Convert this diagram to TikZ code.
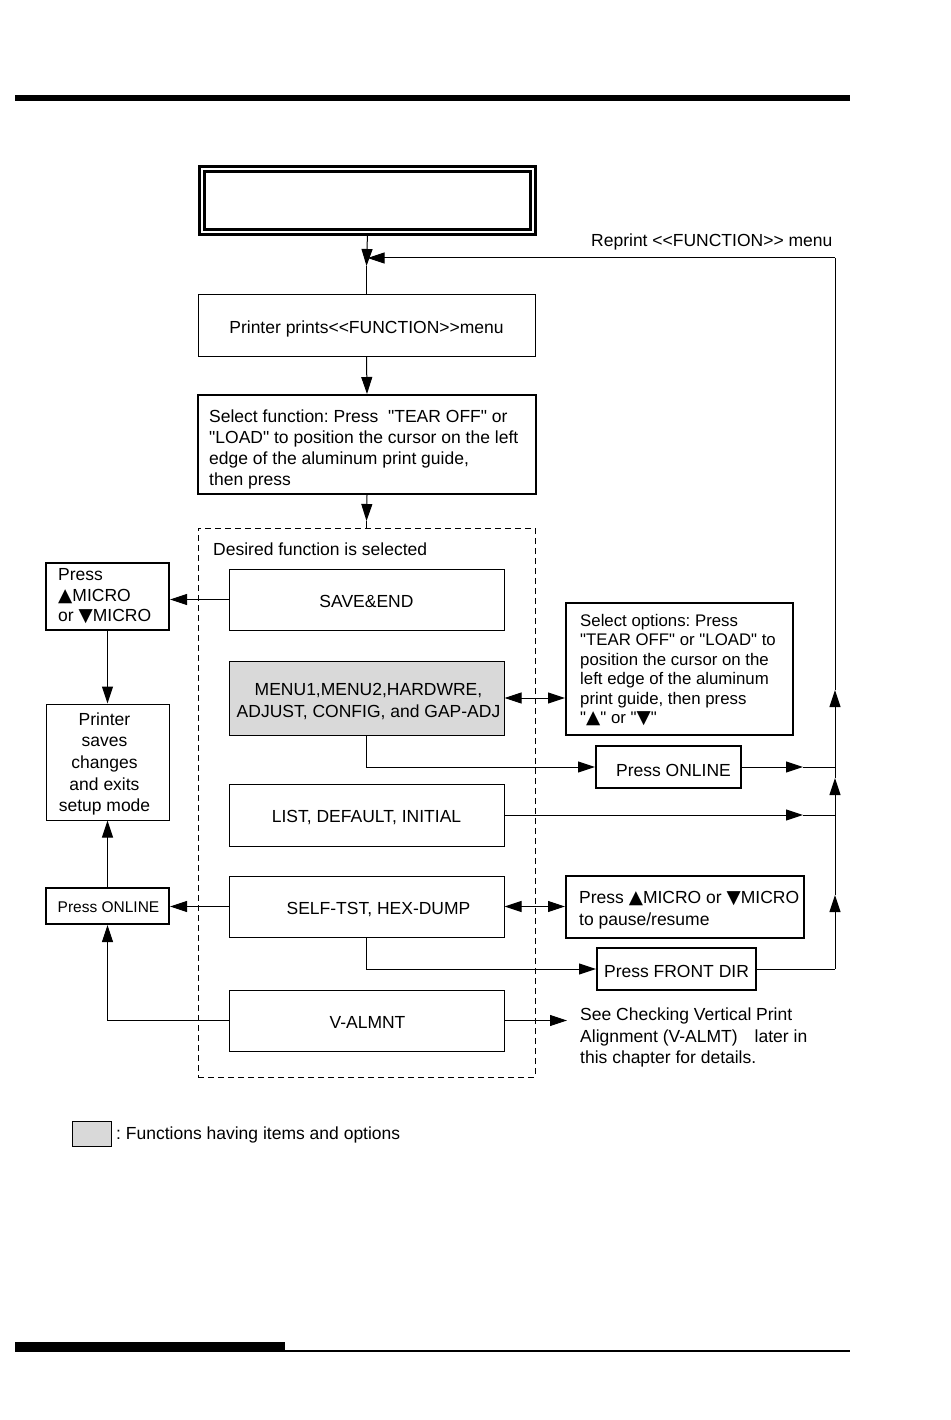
\documentclass[tikz,border=0pt]{standalone}
\usepackage{fontspec}
\setmainfont{Liberation Sans}
\newfontfamily\lsans{Liberation Sans}
\newfontfamily\dvs{DejaVu Sans}
\usetikzlibrary{arrows.meta,calc}
\definecolor{fgray}{RGB}{217,217,217}
\newcommand{\fsz}[2]{\lsans\fontsize{#1}{#2}\selectfont}
\newcommand{\myltlt}{<\kern0pt<}
\newcommand{\mygtgt}{>\kern0pt>}
\newcommand{\tup}{{\dvs\fontsize{18.5}{16}\selectfont ▲}}
\newcommand{\tdn}{{\dvs\fontsize{18.5}{16}\selectfont ▼}}
\frenchspacing
\begin{document}
\begin{tikzpicture}[x=1pt,y=-1pt,
  thinbox/.style={draw, line width=1pt, inner sep=0pt},
  thickbox/.style={thinbox, line width=2pt},
  tstyle/.style={inner sep=0pt, align=center, font=\fsz{17.5}{21}},
  arr/.style={-{Triangle[length=17pt,width=11pt]}, line width=1pt},
  darr/.style={{Triangle[length=17pt,width=11pt]}-{Triangle[length=17pt,width=11pt]}, line width=1pt},
  ln/.style={line width=1pt}]
\useasboundingbox (0,0) rectangle (950,1420);
\fill[white] (0,0) rectangle (950,1420);
% page rules
\fill[black] (15,95) rectangle (850,101);
\fill[black] (15,1342) rectangle (285,1352);
\draw[line width=2pt] (285,1351) -- (850,1351);

% top double box
\node[draw, line width=2.8pt, double, double distance=2pt, minimum width=331pt, minimum height=63pt, inner sep=0pt] (top) at (367.5,200.5) {};

% boxes
\node[thinbox, minimum width=337pt, minimum height=61pt] (print) at (366.5,325.5) {};
\node[thickbox, minimum width=338pt, minimum height=99pt] (sel) at (367,444.5) {};
\node[draw, line width=1pt, dash pattern=on 6pt off 4pt, minimum width=337pt, minimum height=549pt, inner sep=0pt] (dz) at (366.5,802.5) {};
\node[thinbox, minimum width=275pt, minimum height=61pt] (save) at (366.5,599.5) {};
\node[thinbox, fill=fgray, minimum width=275pt, minimum height=74pt] (menu) at (366.5,698) {};
\node[thinbox, minimum width=275pt, minimum height=62pt] (list) at (366.5,815) {};
\node[thinbox, minimum width=275pt, minimum height=61pt] (self) at (366.5,906.5) {};
\node[thinbox, minimum width=275pt, minimum height=61pt] (valm) at (366.5,1020.5) {};
\node[thickbox, minimum width=123pt, minimum height=67pt] (microL) at (107.5,596.5) {};
\node[thinbox, minimum width=123pt, minimum height=116pt] (saves) at (107.5,762) {};
\node[thickbox, minimum width=123pt, minimum height=36pt] (onlineL) at (107.5,906) {};
\node[thickbox, minimum width=227pt, minimum height=132pt] (opt) at (679.5,669) {};
\node[thickbox, minimum width=145pt, minimum height=42pt] (onlineR) at (668.5,767) {};
\node[thickbox, minimum width=238pt, minimum height=62pt] (microR) at (685,907) {};
\node[thickbox, minimum width=159pt, minimum height=42pt] (fdir) at (676.5,969) {};
\node[draw, line width=1pt, fill=fgray, minimum width=39pt, minimum height=25pt, inner sep=0pt] (leg) at (91.5,1133.5) {};

% texts
\node[tstyle] (printt) at ($(print)+(0,3)$) {Printer prints\myltlt FUNCTION\mygtgt menu};
\node[tstyle, align=left, anchor=west, font=\fsz{17.5}{20.7}] (selt) at ($(sel.west)+(12,5)$)
  {Select function: Press \ "TEAR OFF" or\\"LOAD" to position the cursor on the left\\edge of the aluminum print guide,\\then press};
\node[tstyle, anchor=west] (dzt) at (213,549) {Desired function is selected};
\node[tstyle] (savet) at ($(save)+(0,1.5)$) {SAVE\&END};
\node[tstyle, font=\fsz{17.5}{22}] (menut) at ($(menu)+(2,4)$) {MENU1,MENU2,HARDWRE,\\ADJUST, CONFIG, and GAP-ADJ};
\node[tstyle] (listt) at ($(list)+(0,3)$) {LIST, DEFAULT, INITIAL};
\node[tstyle] (selft) at ($(self)+(12,3)$) {SELF-TST, HEX-DUMP};
\node[tstyle] (valmt) at ($(valm)+(1,2)$) {V-ALMNT};
\node[tstyle, align=left, anchor=west, font=\fsz{17.5}{20.5}] (microLt) at ($(microL.west)+(13,0)$) {Press\\\tup MICRO\\or \tdn MICRO};
\node[tstyle, font=\fsz{17.5}{21.7}] (savest) at ($(saves)+(-3,2)$) {Printer\\saves\\changes\\and exits\\setup mode};
\node[tstyle, font=\fsz{15.5}{19}] (onlineLt) at ($(onlineL)+(1,1)$) {Press ONLINE};
\node[tstyle, align=left, anchor=west, font=\fsz{16.8}{19.4}] (optt) at ($(opt.west)+(15,1)$)
  {Select options: Press\\"TEAR OFF" or "LOAD" to\\position the cursor on the\\left edge of the aluminum\\print guide, then press\\"\tup" or "\tdn"};
\node[tstyle] (onlineRt) at ($(onlineR)+(5,3)$) {Press ONLINE};
\node[tstyle, align=left, anchor=west, font=\fsz{17.5}{22}] (microRt) at ($(microR.west)+(14,3)$) {Press \tup MICRO or \tdn MICRO\\to pause/resume};
\node[tstyle] (fdirt) at ($(fdir)+(0,2)$) {Press FRONT DIR};
\node[tstyle, align=left, anchor=west, font=\fsz{17.5}{21.5}] (note) at (580,1037.5)
  {See Checking Vertical Print\\Alignment (V-ALMT)\hspace{17pt}later in\\this chapter for details.};
\node[tstyle, anchor=west] (rep) at (591,242) {Reprint \myltlt FUNCTION\mygtgt\ menu};
\node[tstyle, anchor=west] (legt) at (116,1135) {: Functions having items and options};

% coordinates
\coordinate (j1) at (366.5,258);
\coordinate (d1) at (366.5,266);
\coordinate (d2) at (366.5,521);
\coordinate (rt) at (835,258);
\coordinate (rb) at (835,969);
\coordinate (u1) at (835,895);
\coordinate (u2) at (835,778);
\coordinate (u3) at (835,690);
\coordinate (h1) at (803,767);
\coordinate (h1e) at (835,767);
\coordinate (h2) at (803,815);
\coordinate (h2e) at (835,815);
\coordinate (vt) at (567,1020.5);

% connectors
\draw[arr] (top.south) -- (d1);
\draw[ln] (d1) -- (print.north);
\draw[arr] (print.south) -- (sel.north);
\draw[arr] (sel.south) -- (d2);
\draw[ln] (d2) -- (dz.north);
\draw[arr, shorten >=1pt] (rt) -- (j1);
\draw[ln] (fdir.east) -- (rb);
\draw[arr] (rb) -- (u1);
\draw[arr] (u1) -- (u2);
\draw[arr] (u2) -- (u3);
\draw[ln] (u3) -- (rt);
\draw[arr] (onlineR.east) -- (h1);
\draw[ln] (h1) -- (h1e);
\draw[arr] (list.east) -- (h2);
\draw[ln] (h2) -- (h2e);
\draw[arr] (save.west) -- (save.west -| microL.east);
\draw[arr] (microL.south) -- (saves.north);
\draw[darr] (menu.east) -- (menu.east -| opt.west);
\draw[arr] (menu.south) |- (onlineR.west);
\draw[arr] (self.west) -- (self.west -| onlineL.east);
\draw[darr] (self.east) -- (self.east -| microR.west);
\draw[arr] (self.south) |- (fdir.west);
\draw[arr] (onlineL.north) -- (saves.south);
\draw[arr] (valm.west) -| (onlineL.south);
\draw[arr] (valm.east) -- (vt);
\end{tikzpicture}
\end{document}
